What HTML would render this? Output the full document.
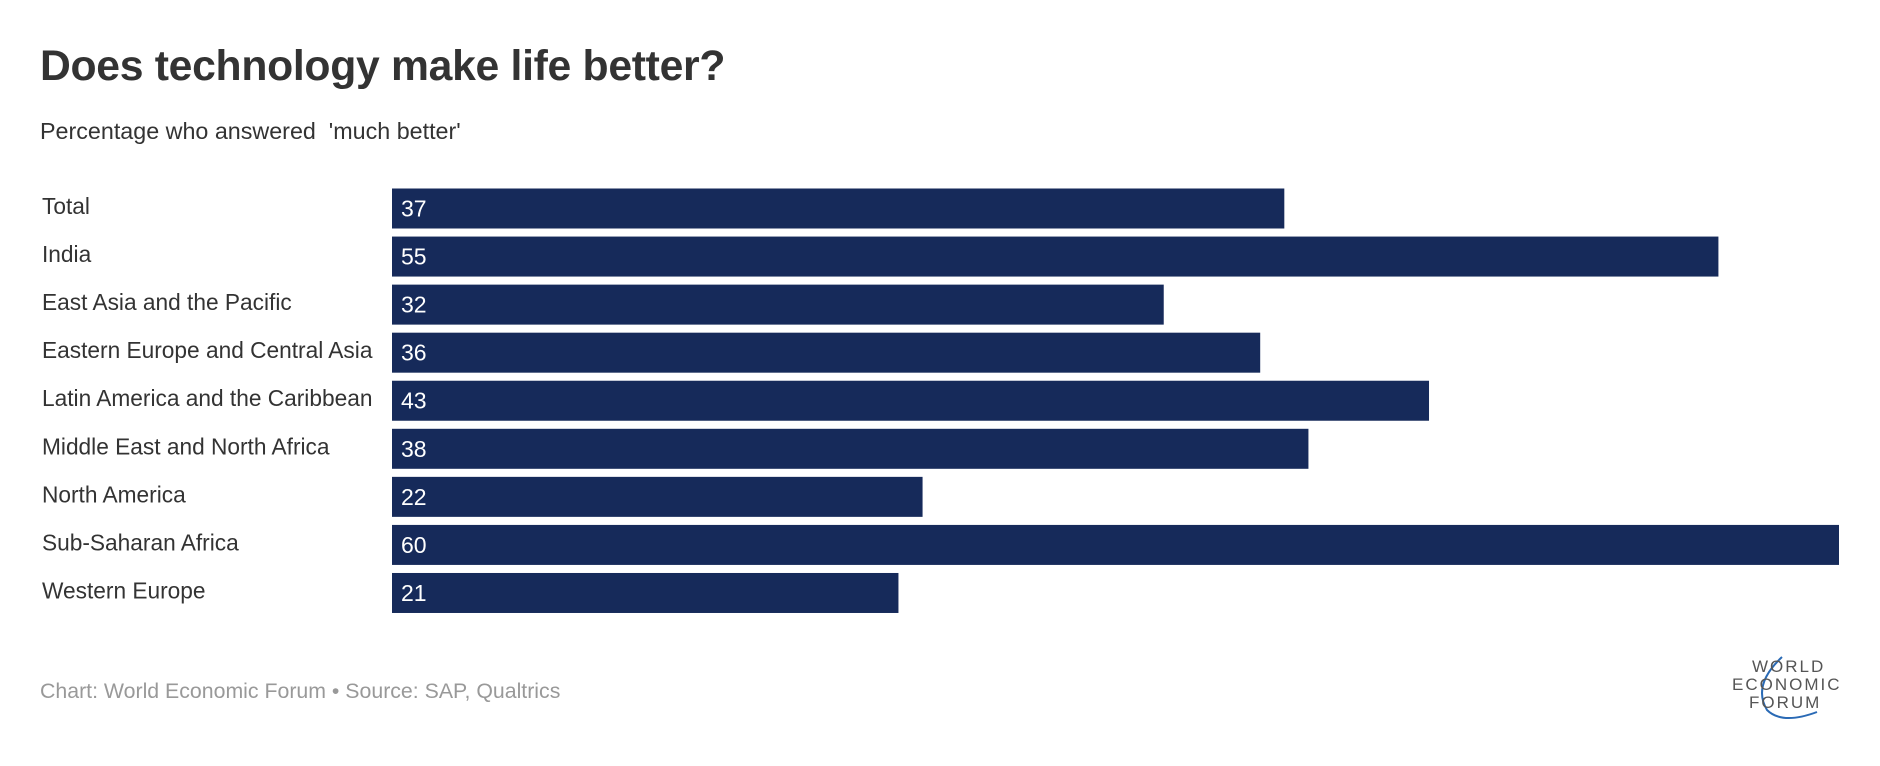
<!DOCTYPE html>
<html><head><meta charset="utf-8"><style>
body{margin:0;width:1880px;height:766px;background:#fff;font-family:"Liberation Sans",sans-serif;position:relative;overflow:hidden}
.t{position:absolute;white-space:nowrap}
</style></head><body>
<div class="t" style="left:40px;top:42px;font-size:42.7px;font-weight:bold;color:#333;letter-spacing:-0.3px">Does technology make life better?</div>
<div class="t" style="left:40px;top:118px;font-size:23.3px;color:#333">Percentage who answered &nbsp;'much better'</div>
<svg id="chart" width="1880" height="766" style="position:absolute;left:0;top:0"></svg>
<div class="t" style="left:40px;top:679px;font-size:21.3px;color:#999">Chart: World Economic Forum • Source: SAP, Qualtrics</div>
<div style="position:absolute;left:1732px;top:655px;width:115px;height:70px">
<svg width="115" height="70" style="position:absolute;left:0;top:0"><path d="M50 2 Q20 30 35 55 Q50 70 85 57" fill="none" stroke="#2a6ab5" stroke-width="2"/></svg>
<div class="t" style="left:20px;top:2px;font-size:17px;letter-spacing:2px;color:#555">WORLD</div>
<div class="t" style="left:0;top:20px;font-size:17px;letter-spacing:2px;color:#555">ECONOMIC</div>
<div class="t" style="left:17px;top:38px;font-size:17px;letter-spacing:2px;color:#555">FORUM</div>
</div>
<script>
const categories=["Total","India","East Asia and the Pacific","Eastern Europe and Central Asia","Latin America and the Caribbean","Middle East and North Africa","North America","Sub-Saharan Africa","Western Europe"];
const values=[37,55,32,36,43,38,22,60,21];
const svg=document.getElementById('chart');
const NS='http://www.w3.org/2000/svg';
const x0=392,x1=1839,maxV=60;
const xs=v=>(v/maxV)*(x1-x0);
const yTop=i=>188.5+i*48.06;
const bh=40;
categories.forEach((c,i)=>{
  const lab=document.createElementNS(NS,'text');
  lab.setAttribute('x',42);lab.setAttribute('y',yTop(i)+25.5);
  lab.setAttribute('font-size','22.7');lab.setAttribute('fill','#333');
  lab.setAttribute('font-family','Liberation Sans, sans-serif');
  lab.textContent=c;
  
  
  svg.appendChild(lab);
  const r=document.createElementNS(NS,'rect');
  r.setAttribute('x',x0);r.setAttribute('y',yTop(i));
  r.setAttribute('width',xs(values[i]));r.setAttribute('height',bh);
  r.setAttribute('fill','#162a5a');
  
  
  svg.appendChild(r);
  const v=document.createElementNS(NS,'text');
  v.setAttribute('x',x0+9);v.setAttribute('y',yTop(i)+28);
  v.setAttribute('font-size','23');v.setAttribute('fill','#fff');
  v.setAttribute('font-family','Liberation Sans, sans-serif');
  v.textContent=values[i];
  
  
  svg.appendChild(v);
});
</script>
</body></html>
